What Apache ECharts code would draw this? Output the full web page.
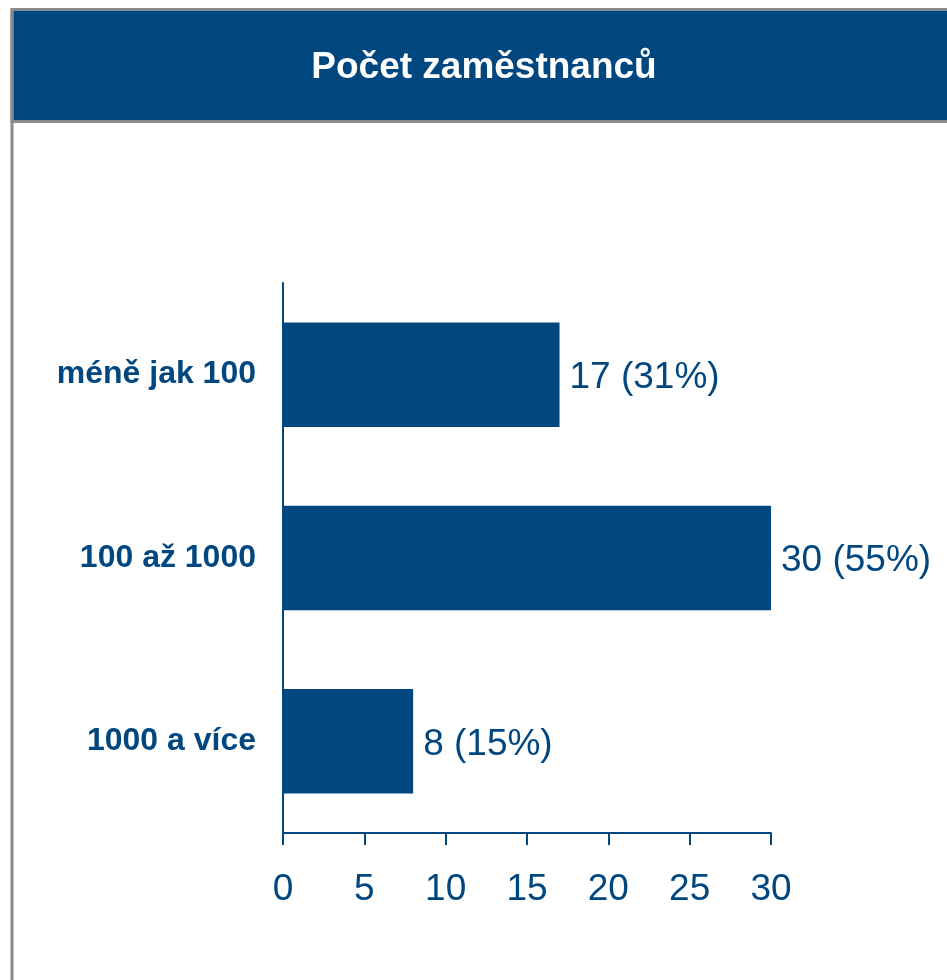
<!DOCTYPE html>
<html>
<head>
<meta charset="utf-8">
<script src="https://cdn.jsdelivr.net/npm/echarts@6/dist/echarts.min.js"></script>
<style>
  html, body { margin: 0; padding: 0; background: #fff; }
  #chart { width: 947px; height: 980px; }
</style>
</head>
<body>
<div id="chart"></div>
<script>
const categories = ['méně jak 100', '100 až 1000', '1000 a více'];
const counts = [17, 30, 8];
const percents = [31, 55, 15];
const xTicks = [0, 5, 10, 15, 20, 25, 30];

const blue = '#00467f';
const gray = '#8a8a8a';

const myChart = echarts.init(document.getElementById('chart'));
const option = {
  backgroundColor: '#fff',
  animation: false,
  graphic: [
    {
      type: 'rect',
      shape: { x: 12, y: 9.5, width: 945, height: 112 },
      style: { fill: blue, stroke: gray, lineWidth: 3 },
      z: 0
    },
    {
      type: 'line',
      shape: { x1: 12, y1: 9, x2: 12, y2: 980 },
      style: { stroke: gray, lineWidth: 3 },
      z: 1
    },
    {
      type: 'text',
      x: 484,
      y: 68,
      style: {
        text: 'Počet zaměstnanců',
        fill: '#fff',
        font: 'bold 37px "Liberation Sans", Arial, sans-serif',
        textAlign: 'center',
        textVerticalAlign: 'middle'
      },
      z: 2
    }
  ],
  grid: { left: 283, top: 283, width: 488, height: 550, containLabel: false },
  xAxis: {
    type: 'value',
    min: xTicks[0],
    max: xTicks[xTicks.length - 1],
    interval: xTicks[1] - xTicks[0],
    splitLine: { show: false },
    axisLine: { show: true, lineStyle: { color: blue, width: 2 } },
    axisTick: { show: true, length: 12, lineStyle: { color: blue, width: 2 } },
    axisLabel: {
      margin: 38,
      color: blue,
      fontSize: 37,
      fontFamily: '"Liberation Sans", Arial, sans-serif'
    }
  },
  yAxis: {
    type: 'category',
    data: categories,
    inverse: true,
    axisLine: { show: true, lineStyle: { color: blue, width: 2 } },
    axisTick: { show: false },
    axisLabel: {
      margin: 27,
      color: blue,
      fontSize: 32,
      fontWeight: 'bold',
      fontFamily: '"Liberation Sans", Arial, sans-serif'
    }
  },
  series: [
    {
      type: 'bar',
      data: counts,
      barWidth: '57%',
      itemStyle: { color: blue },
      label: {
        show: true,
        position: 'right',
        distance: 10,
        offset: [0, 3],
        color: blue,
        fontSize: 37,
        fontFamily: '"Liberation Sans", Arial, sans-serif',
        formatter: function (p) {
          return p.value + ' (' + percents[p.dataIndex] + '%)';
        }
      }
    }
  ]
};
myChart.setOption(option);
</script>
</body>
</html>
